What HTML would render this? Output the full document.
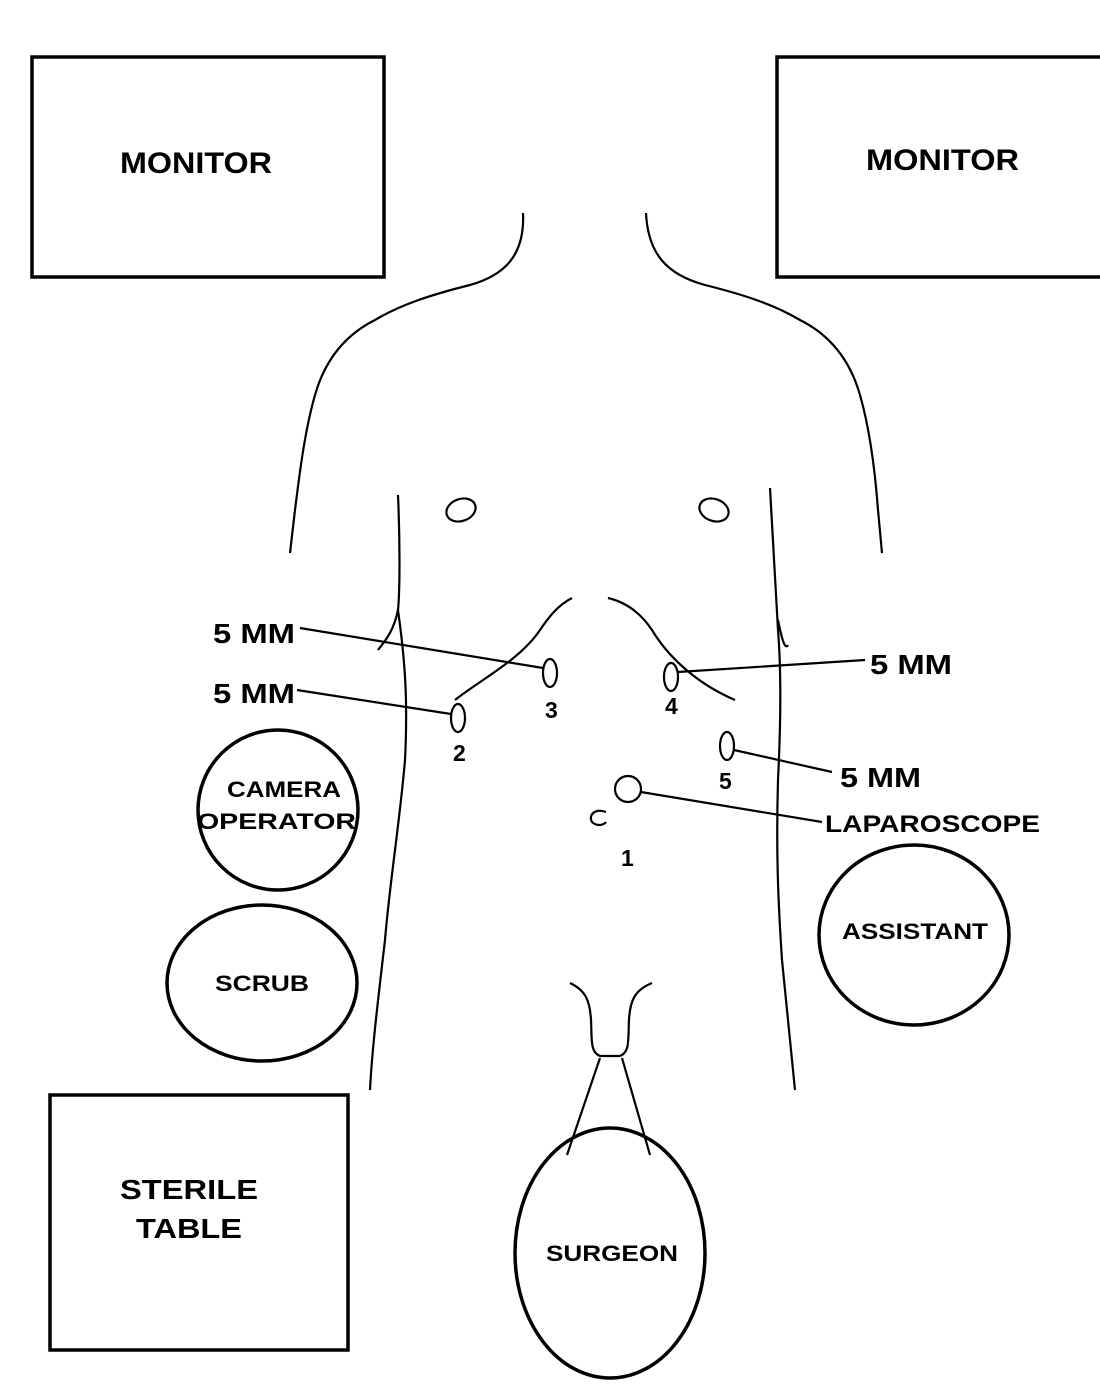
<!DOCTYPE html>
<html><head><meta charset="utf-8"><style>
html,body{margin:0;padding:0;background:#fff;}
svg{display:block;}
text{font-family:"Liberation Sans",Arial,sans-serif;font-weight:bold;fill:#000;}
</style></head><body>
<svg width="1100" height="1395" viewBox="0 0 1100 1395" xmlns="http://www.w3.org/2000/svg">
<g fill="none" stroke="#000" stroke-width="3.5">
<rect x="32" y="57" width="352" height="220"/>
<rect x="777" y="57" width="340" height="220"/>
<rect x="50" y="1095" width="298" height="255"/>
<ellipse cx="278" cy="810" rx="80" ry="80"/>
<ellipse cx="262" cy="983" rx="95" ry="78"/>
<ellipse cx="914" cy="935" rx="95" ry="90"/>
<ellipse cx="610" cy="1253" rx="95" ry="125"/>
</g>
<g fill="none" stroke="#000" stroke-width="2.2">
<path d="M523,213 C525,255 505,275 470,285 C430,295 400,305 375,320 C345,335 325,360 315,395 C305,430 300,470 295,510 L290,553"/>
<path d="M646,213 C648,255 668,275 705,285 C745,295 775,305 800,320 C830,335 850,360 860,395 C870,430 875,470 878,510 L882,553"/>
<path d="M398,495 C400,540 400,590 398,610 C394,630 386,640 378,650"/>
<path d="M398,610 C405,660 408,700 405,760 C400,820 390,880 385,940 C378,1000 372,1050 370,1090"/>
<path d="M770,488 C772,530 775,580 778,630 C782,680 780,740 778,780 C776,850 778,900 782,960 C788,1020 792,1060 795,1090"/>
<path d="M778,620 C782,640 785,650 788,645"/>
<path d="M455,700 C480,680 520,660 540,630 C548,618 558,605 572,598"/>
<path d="M608,598 C625,602 640,612 652,630 C670,660 700,685 735,700"/>
<ellipse cx="461" cy="510" rx="15" ry="11" transform="rotate(-20 461 510)"/>
<ellipse cx="714" cy="510" rx="15" ry="11" transform="rotate(20 714 510)"/>
<ellipse cx="550" cy="673" rx="7" ry="14"/>
<ellipse cx="671" cy="677" rx="7" ry="14"/>
<ellipse cx="458" cy="718" rx="7" ry="14"/>
<ellipse cx="727" cy="746" rx="7" ry="14"/>
<circle cx="628" cy="789" r="13"/>
<path d="M606,812 C595,808 588,815 592,822 C596,826 603,826 606,822"/>
<line x1="300" y1="628" x2="543" y2="668"/>
<line x1="297" y1="690" x2="451" y2="714"/>
<line x1="678" y1="672" x2="865" y2="660"/>
<line x1="734" y1="750" x2="832" y2="772"/>
<line x1="641" y1="792" x2="822" y2="822"/>
<path d="M570,983 C585,990 590,1000 591,1020 C592,1040 590,1052 600,1056 L620,1056 C630,1052 628,1040 629,1020 C630,1000 635,990 652,983"/>
<line x1="600" y1="1058" x2="567" y2="1155"/>
<line x1="622" y1="1058" x2="650" y2="1155"/>
</g>
<g font-size="30" lengthAdjust="spacingAndGlyphs">
<text x="120" y="173" textLength="152" lengthAdjust="spacingAndGlyphs">MONITOR</text>
<text x="866" y="170" textLength="153" lengthAdjust="spacingAndGlyphs">MONITOR</text>
</g>
<g font-size="28">
<text x="120" y="1199" textLength="138" lengthAdjust="spacingAndGlyphs">STERILE</text>
<text x="136" y="1238" textLength="106" lengthAdjust="spacingAndGlyphs">TABLE</text>
<text x="213" y="643" textLength="82" lengthAdjust="spacingAndGlyphs">5 MM</text>
<text x="213" y="703" textLength="82" lengthAdjust="spacingAndGlyphs">5 MM</text>
<text x="870" y="674" textLength="82" lengthAdjust="spacingAndGlyphs">5 MM</text>
<text x="840" y="787" textLength="81" lengthAdjust="spacingAndGlyphs">5 MM</text>
</g>
<g font-size="23">
<text x="545" y="718">3</text>
<text x="665" y="714">4</text>
<text x="453" y="761">2</text>
<text x="719" y="789">5</text>
<text x="621" y="866">1</text>
</g>
<g font-size="24">
<text x="825" y="832" textLength="215" lengthAdjust="spacingAndGlyphs">LAPAROSCOPE</text>
</g>
<g font-size="22">
<text x="227" y="797" textLength="114" lengthAdjust="spacingAndGlyphs">CAMERA</text>
<text x="197" y="829" textLength="159" lengthAdjust="spacingAndGlyphs">OPERATOR</text>
<text x="215" y="991" textLength="94" lengthAdjust="spacingAndGlyphs">SCRUB</text>
<text x="842" y="939" textLength="146" lengthAdjust="spacingAndGlyphs">ASSISTANT</text>
<text x="546" y="1261" textLength="132" lengthAdjust="spacingAndGlyphs">SURGEON</text>
</g>
</svg>
</body></html>
